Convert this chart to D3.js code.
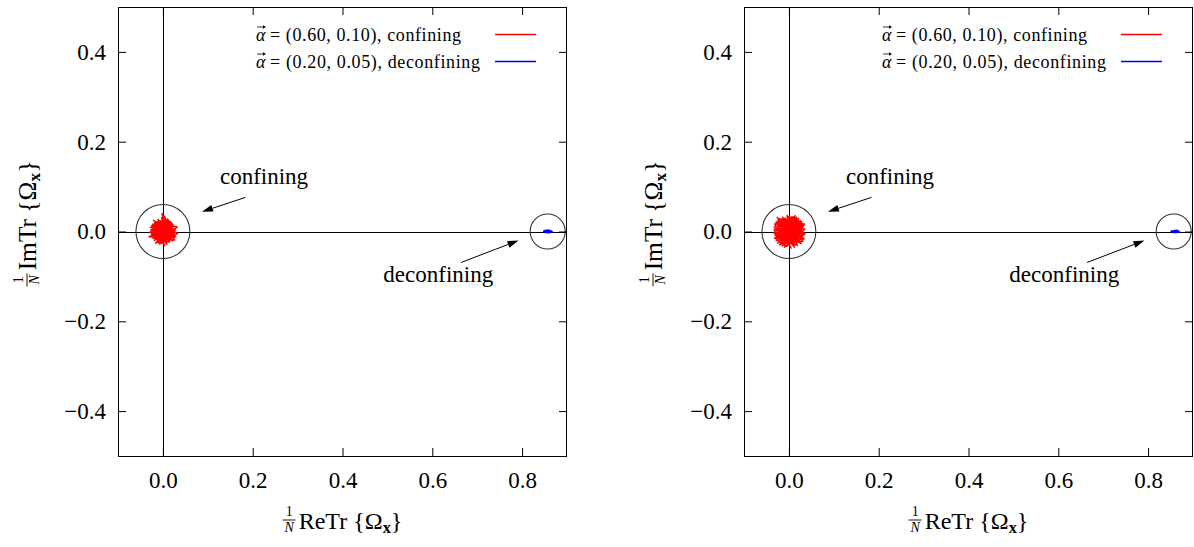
<!DOCTYPE html>
<html><head><meta charset="utf-8">
<script src="https://cdn.jsdelivr.net/npm/d3@7"></script>
<style>
html,body{margin:0;padding:0;background:#fff;}
svg text{font-family:"Liberation Serif","DejaVu Serif","Times New Roman",serif;}
</style></head>
<body><svg id="c" width="1194" height="547"></svg>
<script>
// ---- data ----
const xTicks = [0.0, 0.2, 0.4, 0.6, 0.8];
const yTicks = [-0.4, -0.2, 0.0, 0.2, 0.4];
const legendLabels = ["= (0.60, 0.10), confining", "= (0.20, 0.05), deconfining"];
const seriesColors = ["#ff0000", "#0000ff"];

// panel 1: confining history (ReTr, ImTr)
const confA = [
[0.003,0.002],[-0.011,0.009],[0.014,-0.011],[-0.019,-0.005],[0.011,0.017],[0.004,-0.020],[-0.015,0.014],[0.020,0.005],[-0.007,-0.016],[0.017,0.013],
[-0.021,0.001],[0.002,0.022],[0.013,-0.017],[-0.013,-0.011],[0.023,-0.002],[-0.005,0.018],[0.010,-0.007],[-0.018,0.011],[0.016,0.016],[-0.002,-0.023],
[0.019,-0.013],[-0.022,-0.009],[0.008,0.011],[-0.010,0.021],[0.022,0.009],[-0.016,-0.018],[0.001,-0.011],[0.012,0.020],[-0.024,0.005],[0.018,-0.018],
[-0.002,0.040],[0.005,0.009],[-0.012,-0.021],[0.027,0.002],[-0.008,0.005],[0.010,-0.023],[-0.020,0.017],[0.016,0.004],[-0.004,-0.008],[0.008,0.024],
[-0.017,-0.003],[0.022,-0.009],[-0.009,0.013],[0.006,-0.015],[-0.031,-0.012],[0.014,0.013],[0.000,-0.019],[0.019,0.019],[-0.014,0.003],[0.009,-0.029],
[-0.006,0.024],[0.026,-0.019],[-0.022,-0.015],[0.003,0.015],[0.016,-0.005],[-0.011,-0.025],[0.032,0.010],[-0.018,0.021],[0.005,-0.003],[-0.003,0.031],
[0.021,-0.021],[-0.028,0.009],[0.012,0.007],[-0.008,-0.020],[0.017,0.022],[-0.023,-0.004],[0.007,-0.019],[-0.012,0.018],[0.026,-0.006],[-0.001,0.006],
[-0.019,-0.020],[0.013,0.025],[0.020,-0.002],[-0.015,0.008],[0.004,-0.032],[-0.025,0.013],[0.023,0.014],[-0.006,-0.013],[0.011,0.003],[-0.021,0.025],
[0.029,-0.012],[-0.010,-0.006],[0.006,0.020],[-0.029,-0.002],[0.015,-0.024],[-0.004,0.012],[0.019,0.010],[-0.013,-0.016],[0.001,0.027],[0.024,0.000],
[-0.021,0.012],[0.009,-0.012],[-0.007,0.016],[0.028,0.004],[-0.016,-0.026],[0.012,0.015],[-0.024,-0.012],[0.004,0.034],[0.018,-0.015],[-0.009,0.001],
[0.014,-0.020],[-0.018,0.019],[0.022,0.017],[-0.003,-0.026],[-0.027,0.003],[0.010,0.021],[0.025,-0.014],[-0.011,0.027],[0.007,-0.008],[-0.021,-0.008],
[0.018,0.007],[-0.005,-0.022],[0.002,0.019],[-0.015,0.022],[0.026,0.012],[-0.012,-0.002],[0.015,-0.016],[-0.023,0.016],[0.008,0.004],[-0.001,-0.016],
[0.021,-0.018],[-0.017,0.006],[0.011,0.028],[-0.008,-0.028],[0.033,-0.004],[-0.014,0.016],[0.003,-0.014],[-0.025,-0.006],[0.017,0.019],[-0.006,0.008],
[0.013,-0.009],[-0.020,-0.013],[0.006,0.026],[0.020,-0.010],[-0.010,0.011],[0.000,0.003]
];
// panel 1: deconfining history
const deconfA = [
[0.856,0.001],[0.861,-0.002],[0.851,0.002],[0.864,0.001],[0.849,-0.001],[0.858,0.003],[0.866,-0.001],[0.853,-0.002],[0.860,0.002],[0.847,0.000],
[0.862,-0.003],[0.855,0.002],[0.867,0.001],[0.850,-0.002],[0.859,0.000],[0.863,0.002],[0.852,0.001],[0.857,-0.002],[0.865,0.000],[0.848,0.001],
[0.860,-0.001],[0.854,0.000],[0.868,-0.001],[0.856,0.002],[0.851,-0.001],[0.862,0.001],[0.858,-0.001]
];
// panel 2: confining history
const confB = [
[0.004,-0.002],[-0.018,0.012],[0.022,-0.015],[-0.025,-0.008],[0.015,0.022],[0.006,-0.026],[-0.020,0.020],[0.027,0.006],[-0.010,-0.022],[0.023,0.017],
[-0.028,0.002],[0.003,0.028],[0.017,-0.023],[-0.017,-0.016],[0.029,-0.003],[-0.008,0.024],[0.013,-0.010],[-0.024,0.015],[0.021,0.021],[-0.003,-0.030],
[0.025,-0.018],[-0.029,-0.012],[0.010,0.015],[-0.014,0.027],[0.028,0.011],[-0.021,-0.024],[0.002,-0.015],[0.016,0.026],[-0.031,0.007],[0.024,-0.024],
[-0.004,0.033],[0.007,0.012],[-0.016,-0.028],[0.033,0.002],[-0.011,0.007],[0.014,-0.030],[-0.026,0.023],[0.021,0.005],[-0.006,-0.011],[0.011,0.030],
[-0.023,-0.004],[0.030,-0.012],[-0.012,0.017],[0.008,-0.020],[-0.032,-0.015],[0.019,0.018],[0.001,-0.025],[0.026,0.024],[-0.019,0.004],[0.012,-0.035],
[-0.008,0.030],[0.031,-0.022],[-0.028,-0.020],[0.004,0.020],[0.035,0.017],[0.020,-0.007],[-0.015,-0.032],[0.032,0.013],[-0.024,0.027],[0.007,-0.005],
[-0.004,0.036],[0.027,-0.027],[-0.033,0.010],[0.016,0.009],[-0.011,-0.026],[0.022,0.029],[-0.030,-0.005],[0.009,-0.025],[-0.016,0.023],[0.033,-0.008],
[-0.002,0.008],[-0.025,-0.026],[0.017,0.032],[0.026,-0.003],[-0.020,0.011],[0.005,-0.037],[-0.032,0.017],[0.029,0.019],[-0.008,-0.017],[0.014,0.004],
[-0.026,0.031],[0.034,-0.016],[-0.013,-0.008],[0.008,0.026],[-0.034,-0.003],[0.019,-0.031],[-0.005,0.016],[0.024,0.013],[-0.017,-0.021],[0.001,0.034],
[0.030,0.000],[-0.027,0.016],[0.012,-0.016],[-0.009,0.021],[0.035,0.005],[-0.021,-0.030],[0.015,0.019],[-0.030,-0.016],[0.005,0.031],[0.023,-0.020],
[-0.012,0.001],[0.018,-0.026],[-0.023,0.025],[0.028,0.022],[-0.004,-0.033],[-0.033,0.004],[0.013,0.027],[0.032,-0.018],[-0.014,0.032],[0.009,-0.011],
[-0.027,-0.010],[0.023,0.009],[-0.007,-0.028],[0.003,0.025],[-0.019,0.028],[0.033,0.015],[-0.015,-0.003],[0.019,-0.021],[-0.029,0.021],[0.010,0.006],
[-0.001,-0.021],[0.027,-0.024],[-0.022,0.008],[0.014,0.035],[-0.010,-0.035],[0.036,-0.005],[-0.018,0.020],[0.004,-0.018],[-0.031,-0.008],[0.021,0.025],
[-0.008,0.011],[0.016,-0.012],[-0.025,-0.017],[0.007,0.033],[0.025,-0.013],[-0.013,0.014],[0.001,0.001]
];
// panel 2: deconfining history
const deconfB = [
[0.859,0.001],[0.864,-0.002],[0.854,0.001],[0.867,0.002],[0.852,-0.001],[0.861,0.002],[0.869,-0.001],[0.856,-0.002],[0.863,0.001],[0.850,0.000],
[0.865,-0.002],[0.858,0.002],[0.870,0.000],[0.853,-0.001],[0.862,0.000],[0.866,0.002],[0.855,0.001],[0.860,-0.002],[0.868,0.001],[0.851,0.001],
[0.863,-0.001],[0.857,0.000],[0.871,-0.001],[0.859,0.002],[0.854,-0.001],[0.865,0.001],[0.861,-0.001]
];
// marker circles: [centerRe, centerIm, radius]
const circles = [[0.0, 0.0, 0.06], [0.857, 0.0, 0.039]];

// ---- drawing ----
const FONT = "'Liberation Serif', 'DejaVu Serif', 'Times New Roman', serif";
const svg = d3.select("#c");
const W = 449, TOP = 7, BOT = 456;
const panels = [
  {left: 118, conf: confA, deconf: deconfA},
  {left: 744, conf: confB, deconf: deconfB}
];
const fmt = d3.format(".1f");

function mathLabel(g, word, targetW) {
  const t1 = g.append("text").attr("font-size", 14).attr("text-anchor", "middle").text("1");
  const tN = g.append("text").attr("font-size", 14).attr("font-style", "italic").attr("text-anchor", "middle").text("N");
  const bar = g.append("line").attr("stroke", "#000").attr("stroke-width", 0.9);
  const main = g.append("text").attr("font-size", 23);
  main.append("tspan").text(word + "Tr {Ω");
  const sub = main.append("tspan").attr("font-size", 16).attr("font-weight", "bold").attr("dy", 4).text("x");
  main.append("tspan").attr("dy", -4).text("}");
  const fw = 13, gap = 3;
  let mw = main.node().getComputedTextLength();
  const fs = 23 * (targetW - fw - gap) / mw;
  main.attr("font-size", fs);
  sub.attr("font-size", fs * 0.68);
  mw = main.node().getComputedTextLength();
  const total = fw + gap + mw;
  const x0 = -total / 2;
  t1.attr("x", x0 + fw / 2).attr("y", -13);
  tN.attr("x", x0 + fw / 2).attr("y", 3);
  bar.attr("x1", x0).attr("x2", x0 + fw).attr("y1", -9).attr("y2", -9);
  main.attr("x", x0 + fw + gap).attr("y", 0);
}

function arrow(g, x1, y1, x2, y2, L, H, sw) {
  const ang = Math.atan2(y2 - y1, x2 - x1);
  const bx = x2 - L * Math.cos(ang), by = y2 - L * Math.sin(ang);
  g.append("line").attr("x1", x1).attr("y1", y1).attr("x2", bx).attr("y2", by)
    .attr("stroke", "#000").attr("stroke-width", sw);
  g.append("path")
    .attr("d", `M${x2},${y2}L${bx - H * Math.sin(ang)},${by + H * Math.cos(ang)}L${bx + H * Math.sin(ang)},${by - H * Math.cos(ang)}Z`)
    .attr("fill", "#000");
}

panels.forEach(p => {
  const x = d3.scaleLinear().domain([-0.1, 0.9]).range([p.left, p.left + W]);
  const y = d3.scaleLinear().domain([-0.5, 0.5]).range([BOT, TOP]);
  const g = svg.append("g");

  g.append("line").attr("x1", Math.round(x(0)) + 0.5).attr("x2", Math.round(x(0)) + 0.5)
    .attr("y1", TOP).attr("y2", BOT).attr("stroke", "#000").attr("stroke-width", 1);
  g.append("line").attr("x1", p.left).attr("x2", p.left + W)
    .attr("y1", Math.round(y(0)) + 0.5).attr("y2", Math.round(y(0)) + 0.5).attr("stroke", "#000").attr("stroke-width", 1);

  const line = d3.line().x(d => x(d[0])).y(d => y(d[1]));
  g.append("path").datum(p.conf).attr("d", line).attr("fill", "none")
    .attr("stroke", seriesColors[0]).attr("stroke-width", 1.4).attr("stroke-linejoin", "round");
  g.append("path").datum(p.deconf).attr("d", line).attr("fill", "none")
    .attr("stroke", seriesColors[1]).attr("stroke-width", 1.6);

  circles.forEach(c => {
    g.append("circle").attr("cx", x(c[0])).attr("cy", y(c[1])).attr("r", x(c[2]) - x(0))
      .attr("fill", "none").attr("stroke", "#333").attr("stroke-width", 1.1);
  });

  const ax = g.append("g").attr("transform", `translate(0,${BOT})`)
    .call(d3.axisBottom(x).tickValues(xTicks).tickFormat(fmt).tickSizeInner(-8).tickSizeOuter(0).tickPadding(16));
  const ay = g.append("g").attr("transform", `translate(${p.left},0)`)
    .call(d3.axisLeft(y).tickValues(yTicks).tickFormat(fmt).tickSizeInner(-8).tickSizeOuter(0).tickPadding(12));
  const at = g.append("g").attr("transform", `translate(0,${TOP})`)
    .call(d3.axisTop(x).tickValues(xTicks).tickFormat("").tickSizeInner(-8).tickSizeOuter(0));
  const ar = g.append("g").attr("transform", `translate(${p.left + W},0)`)
    .call(d3.axisRight(y).tickValues(yTicks).tickFormat("").tickSizeInner(-8).tickSizeOuter(0));
  [ax, ay, at, ar].forEach(a => {
    a.attr("font-family", null);
    a.select(".domain").remove();
    a.selectAll("text").style("font-family", FONT).attr("font-size", 23).attr("fill", "#000");
    a.selectAll("line").attr("stroke", "#000");
  });

  g.append("rect").attr("x", p.left + 0.5).attr("y", TOP + 0.5).attr("width", W - 1).attr("height", BOT - TOP)
    .attr("fill", "none").attr("stroke", "#000").attr("stroke-width", 1);

  g.append("text").attr("x", x(0.127)).attr("y", y(0.106)).attr("font-size", 23).text("confining");
  arrow(g, x(0.184), y(0.076), x(0.087), y(0.044), 11, 3.5, 1);
  g.append("text").attr("x", x(0.491)).attr("y", y(-0.112)).attr("font-size", 23).text("deconfining");
  arrow(g, x(0.664), y(-0.069), x(0.792), y(-0.020), 11, 3.5, 1);

  const legW = [191, 210];
  legendLabels.forEach((lab, i) => {
    const ly = 41 + i * 27;
    const lx = p.left + 138;
    g.append("text").attr("x", lx).attr("y", ly).attr("font-size", 18).attr("font-style", "italic").text("α");
    arrow(g, lx + 1, ly - 14, lx + 10, ly - 14, 3, 1.8, 0.8);
    g.append("text").attr("x", lx + 14).attr("y", ly).attr("font-size", 18)
      .attr("textLength", legW[i]).attr("lengthAdjust", "spacing").text(lab);
    g.append("line").attr("x1", p.left + 377).attr("x2", p.left + 418)
      .attr("y1", ly - 6.5).attr("y2", ly - 6.5).attr("stroke", seriesColors[i]).attr("stroke-width", 1.3);
  });

  const xl = g.append("g").attr("transform", `translate(${x(0.4)},529)`);
  mathLabel(xl, "Re", 120);
  const yl = g.append("g").attr("transform", `translate(${p.left - 82},${y(0) - 8}) rotate(-90)`);
  mathLabel(yl, "Im", 126);
});
svg.selectAll("text").filter(function(){ return !this.style.fontFamily; }).style("font-family", FONT);
</script></body></html>
